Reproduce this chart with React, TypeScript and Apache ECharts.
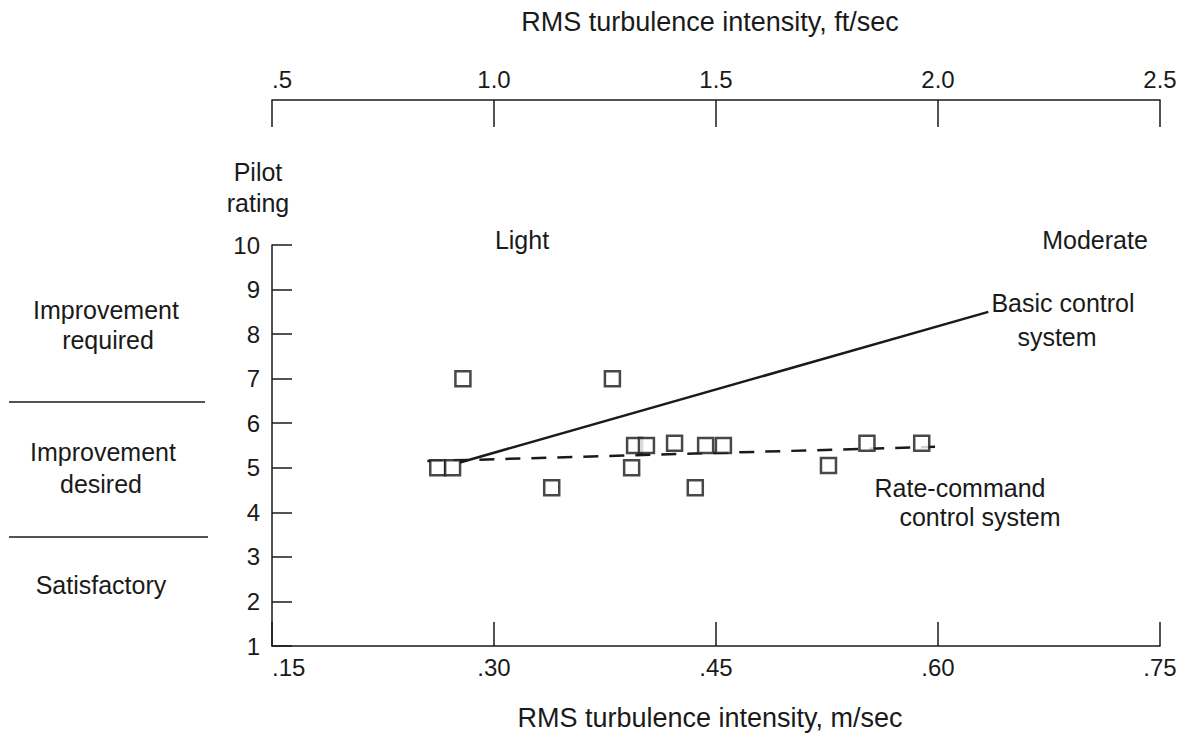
import React, { useEffect, useRef } from "react";
import * as echarts from "echarts";

const xTicksMs = [".15", ".30", ".45", ".60", ".75"];
const xTicksFt = [".5", "1.0", "1.5", "2.0", "2.5"];
const ratingX = [0.262, 0.272, 0.279, 0.339, 0.38, 0.393, 0.395, 0.403, 0.422, 0.436, 0.443, 0.455, 0.526, 0.552, 0.589];
const ratingY = [5.0, 5.0, 7.0, 4.55, 7.0, 5.0, 5.5, 5.5, 5.55, 4.55, 5.5, 5.5, 5.05, 5.55, 5.55];
const basicLineX = [0.277, 0.634];
const basicLineY = [5.12, 8.5];
const rateLineX = [0.255, 0.598];
const rateLineY = [5.15, 5.47];

const FONT = "'Liberation Sans', Arial, sans-serif";
const INK = "#1a1a1a";

export default function App() {
  const ref = useRef<HTMLDivElement>(null);
  useEffect(() => {
    if (!ref.current) return;
    const chart = echarts.init(ref.current, null, { renderer: "svg" });
    const txt = (text: string, x: number, y: number, size = 25, align = "center") => ({
      type: "text",
      style: { text, x, y, font: `${size}px ${FONT}`, fill: INK, textAlign: align, textVerticalAlign: "middle" },
    });
    const msLabel = (v: number) => {
      const i = Math.round((v - 0.15) / 0.15);
      return xTicksMs[i] ?? "";
    };
    const ftLabel = (v: number) => {
      const i = Math.round((v - 0.5) / 0.5);
      return xTicksFt[i] ?? "";
    };
    chart.setOption({
      animation: false,
      backgroundColor: "#ffffff",
      grid: [
        { left: 272, right: 27, top: 245, bottom: 94, outerBoundsMode: "none" },
        { left: 272, right: 27, top: 100, height: 27, outerBoundsMode: "none" },
      ],
      xAxis: [
        {
          type: "value",
          gridIndex: 0,
          min: 0.15,
          max: 0.75,
          interval: 0.15,
          position: "bottom",
          splitLine: { show: false },
          axisLine: { show: true, lineStyle: { color: INK, width: 1.5 } },
          axisTick: { show: true, inside: true, length: 24, lineStyle: { color: INK, width: 1.5 } },
          axisLabel: { formatter: msLabel, color: INK, fontSize: 24, fontFamily: FONT, margin: 9, alignMinLabel: "left" },
        },
        {
          type: "value",
          gridIndex: 1,
          min: 0.5,
          max: 2.5,
          interval: 0.5,
          position: "top",
          splitLine: { show: false },
          axisLine: { show: true, onZero: false, lineStyle: { color: INK, width: 1.5 } },
          axisTick: { show: true, inside: true, length: 27, lineStyle: { color: INK, width: 1.5 } },
          axisLabel: { formatter: ftLabel, color: INK, fontSize: 24, fontFamily: FONT, margin: 9, alignMinLabel: "left" },
        },
      ],
      yAxis: [
        {
          type: "value",
          gridIndex: 0,
          min: 1,
          max: 10,
          interval: 1,
          splitLine: { show: false },
          axisLine: { show: true, lineStyle: { color: INK, width: 1.5 } },
          axisTick: { show: true, inside: true, length: 20, lineStyle: { color: INK, width: 1.5 } },
          axisLabel: { color: INK, fontSize: 24, fontFamily: FONT, margin: 12 },
        },
        {
          type: "value",
          gridIndex: 1,
          show: false,
          min: 0,
          max: 1,
        },
      ],
      series: [
        {
          type: "line",
          xAxisIndex: 0,
          yAxisIndex: 0,
          data: basicLineX.map((x, i) => [x, basicLineY[i]]),
          symbol: "none",
          lineStyle: { color: INK, width: 2.5 },
          z: 2,
        },
        {
          type: "line",
          xAxisIndex: 0,
          yAxisIndex: 0,
          data: rateLineX.map((x, i) => [x, rateLineY[i]]),
          symbol: "none",
          lineStyle: { color: INK, width: 2.5, type: [15, 11] },
          z: 2,
        },
        {
          type: "scatter",
          xAxisIndex: 0,
          yAxisIndex: 0,
          data: ratingX.map((x, i) => [x, ratingY[i]]),
          symbol: "rect",
          symbolSize: 15,
          itemStyle: { color: "#ffffff", borderColor: INK, borderWidth: 2.5 },
          z: 3,
        },
      ],
      graphic: [
        txt("RMS turbulence intensity, ft/sec", 710, 22, 27),
        txt("RMS turbulence intensity, m/sec", 710, 718, 27),
        txt("Pilot", 258, 172),
        txt("rating", 258, 203),
        txt("Light", 522, 240),
        txt("Moderate", 1095, 240),
        txt("Basic control", 1063, 303),
        txt("system", 1057, 337),
        txt("Rate-command", 960, 488),
        txt("control system", 980, 517),
        txt("Improvement", 106, 310),
        txt("required", 108, 340),
        txt("Improvement", 103, 452),
        txt("desired", 101, 484),
        txt("Satisfactory", 101, 585),
        { type: "line", shape: { x1: 9, y1: 402, x2: 205, y2: 402 }, style: { stroke: INK, lineWidth: 1.5 } },
        { type: "line", shape: { x1: 9, y1: 537, x2: 208, y2: 537 }, style: { stroke: INK, lineWidth: 1.5 } },
      ],
    });
    return () => chart.dispose();
  }, []);
  return <div ref={ref} style={{ width: 1187, height: 740, position: "absolute", left: 0, top: 0 }} />;
}
